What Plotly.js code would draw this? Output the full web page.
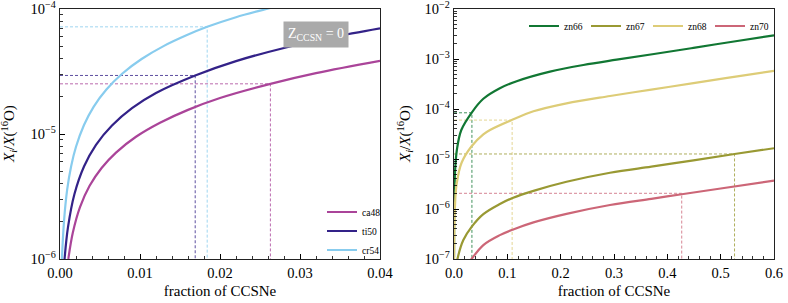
<!DOCTYPE html>
<html><head><meta charset="utf-8">
<script src="https://cdn.plot.ly/plotly-3.0.1.min.js"></script>
<style>html,body{margin:0;padding:0;background:#fff}#chart{width:788px;height:303px}</style>
</head><body><div id="chart"></div>
<script>
// ---------- left panel data (fraction of CCSNe vs X_i/X(16O)) ----------
const leftNames = ['ca48', 'ti50', 'cr54'];
const ca48_f = [0.00104, 0.0016, 0.0025, 0.0037, 0.0052, 0.007, 0.0095, 0.0125, 0.016, 0.02, 0.0263, 0.032, 0.04];
const ca48_v = [1.0e-6, 1.62e-6, 2.6e-6, 3.85e-6, 5.35e-6, 7.1e-6, 9.5e-6, 1.23e-5, 1.56e-5, 1.94e-5, 2.52e-5, 3.07e-5, 3.85e-5];
const ti50_f = [0.00057, 0.001, 0.0018, 0.003, 0.0045, 0.0065, 0.009, 0.012, 0.0169, 0.022, 0.028, 0.034, 0.04];
const ti50_v = [1.0e-6, 1.8e-6, 3.3e-6, 5.5e-6, 8.2e-6, 1.17e-5, 1.61e-5, 2.13e-5, 2.94e-5, 3.83e-5, 4.88e-5, 5.94e-5, 7.0e-5];
const cr54_f = [0.00024, 0.0005, 0.0009, 0.0014, 0.002, 0.003, 0.0042, 0.0058, 0.0078, 0.0102, 0.013, 0.0158, 0.0184, 0.022, 0.0258, 0.028];
const cr54_v = [1.0e-6, 2.0e-6, 3.6e-6, 5.55e-6, 7.9e-6, 1.18e-5, 1.65e-5, 2.27e-5, 3.05e-5, 3.98e-5, 5.07e-5, 6.16e-5, 7.2e-5, 8.6e-5, 1.0e-4, 1.09e-4];
// marked points (dashed guide lines): ca48, ti50, cr54
const leftMark_f = [0.0263, 0.0169, 0.0184];
const leftMark_v = [2.52e-5, 2.94e-5, 7.2e-5];
const leftTickVals = [1e-6, 1e-5, 1e-4];
const leftTickText = ['10<sup>−6</sup>', '10<sup>−5</sup>', '10<sup>−4</sup>'];

// ---------- right panel data ----------
const rightNames = ['zn66', 'zn67', 'zn68', 'zn70'];
const zn66_f = [0.00004, 0.0002, 0.001, 0.0022, 0.0055, 0.0137, 0.0336, 0.055, 0.086, 0.1175, 0.18, 0.2425, 0.305, 0.375, 0.449, 0.525, 0.6];
const zn66_v = [1.1e-7, 5.6e-7, 2.8e-6, 6.2e-6, 1.55e-5, 3.8e-5, 8.6e-5, 1.6e-4, 2.6e-4, 3.6e-4, 5.6e-4, 7.6e-4, 9.7e-4, 1.26e-3, 1.67e-3, 2.24e-3, 2.98e-3];
const zn67_f = [0.004, 0.0065, 0.0175, 0.033, 0.055, 0.086, 0.111, 0.149, 0.211, 0.2925, 0.37, 0.449, 0.526, 0.6];
const zn67_v = [6.5e-8, 1.0e-7, 2.4e-7, 4.4e-7, 7.9e-7, 1.26e-6, 1.68e-6, 2.3e-6, 3.5e-6, 5.3e-6, 7.05e-6, 9.4e-6, 1.26e-5, 1.64e-5];
const zn68_f = [0.00015, 0.0005, 0.0019, 0.005, 0.0144, 0.033, 0.055, 0.0675, 0.108, 0.149, 0.211, 0.2925, 0.37, 0.449, 0.525, 0.6];
const zn68_v = [1.0e-7, 3.2e-7, 1.2e-6, 3.2e-6, 8.5e-6, 1.8e-5, 3.1e-5, 3.8e-5, 6.0e-5, 9.0e-5, 1.3e-4, 1.82e-4, 2.44e-4, 3.3e-4, 4.4e-4, 5.8e-4];
const zn70_f = [0.03, 0.033, 0.055, 0.086, 0.111, 0.149, 0.211, 0.2925, 0.37, 0.427, 0.5, 0.6];
const zn70_v = [9.0e-8, 1.0e-7, 1.9e-7, 3.0e-7, 3.9e-7, 5.4e-7, 8.0e-7, 1.2e-6, 1.6e-6, 1.97e-6, 2.57e-6, 3.7e-6];
// marked points: zn66, zn67, zn68, zn70
const rightMark_f = [0.0336, 0.526, 0.109, 0.427];
const rightMark_v = [8.4e-5, 1.26e-5, 6.0e-5, 2.06e-6];
const rightTickVals = [1e-7, 1e-6, 1e-5, 1e-4, 1e-3, 1e-2];
const rightTickText = ['10<sup>−7</sup>', '10<sup>−6</sup>', '10<sup>−5</sup>', '10<sup>−4</sup>', '10<sup>−3</sup>', '10<sup>−2</sup>'];

// ---------- styling ----------
const leftColors = ['#AA4499', '#332288', '#88CCEE'];
const rightColors = ['#117733', '#999933', '#DDCC77', '#CC6677'];
const FONT = '"Liberation Serif", "Times New Roman", serif';
const leftRange = [-6, -4];
const rightRange = [-7, -2];

const leftSeries = [[ca48_f, ca48_v], [ti50_f, ti50_v], [cr54_f, cr54_v]];
const rightSeries = [[zn66_f, zn66_v], [zn67_f, zn67_v], [zn68_f, zn68_v], [zn70_f, zn70_v]];

const traces = [];
leftMark_f.forEach((f, i) => {
  traces.push({x: [0, f, f], y: [leftMark_v[i], leftMark_v[i], Math.pow(10, leftRange[0])],
    xaxis: 'x', yaxis: 'y', mode: 'lines', showlegend: false, hoverinfo: 'skip',
    line: {color: leftColors[i], width: 0.8, dash: '3px,2px'}});
});
rightMark_f.forEach((f, i) => {
  traces.push({x: [0, f, f], y: [rightMark_v[i], rightMark_v[i], Math.pow(10, rightRange[0])],
    xaxis: 'x2', yaxis: 'y2', mode: 'lines', showlegend: false, hoverinfo: 'skip',
    line: {color: rightColors[i], width: 0.8, dash: '3px,2px'}});
});
leftSeries.forEach((s, i) => {
  traces.push({x: s[0], y: s[1], name: leftNames[i], xaxis: 'x', yaxis: 'y', mode: 'lines',
    legend: 'legend', line: {color: leftColors[i], width: 2.2, shape: 'spline', smoothing: 1}});
});
rightSeries.forEach((s, i) => {
  traces.push({x: s[0], y: s[1], name: rightNames[i], xaxis: 'x2', yaxis: 'y2', mode: 'lines',
    legend: 'legend2', line: {color: rightColors[i], width: 2.2, shape: 'spline', smoothing: 1}});
});

function minorLog(lo, hi) {
  const v = [];
  for (let e = lo; e < hi; e++) for (let m = 2; m <= 9; m++) v.push(m * Math.pow(10, e));
  return v;
}

const ytitle = '<i>X</i><sub><i>i</i></sub>/<i>X</i>(<sup>16</sup>O)';
const tickFont = {family: FONT, size: 14.5, color: '#000'};
const titleFont = {family: FONT, size: 15, color: '#000'};
const xCommon = {ticks: 'inside', ticklen: 5, tickwidth: 1, tickcolor: '#000', showline: true, mirror: true,
  linecolor: '#222', linewidth: 1.3, showgrid: false, zeroline: false, tickfont: tickFont,
  ticklabeloverflow: 'allow', title: {text: 'fraction of CCSNe', font: titleFont, standoff: 5}};
const yCommon = {type: 'log', tickmode: 'array', ticks: 'inside', ticklen: 5, tickwidth: 1,
  tickcolor: '#000', showline: true, mirror: true, linecolor: '#222', linewidth: 1.3, showgrid: false, zeroline: false,
  tickfont: tickFont, ticklabeloverflow: 'allow'};

const layout = {
  width: 788, height: 303, margin: {l: 0, r: 0, t: 9, b: 44, autoexpand: false},
  paper_bgcolor: '#fff', plot_bgcolor: '#fff', font: {family: FONT, color: '#000'},
  xaxis: Object.assign({}, xCommon, {domain: [60 / 788, 380 / 788], range: [0, 0.04], tick0: 0, dtick: 0.01,
    tickformat: '.2f', minor: {dtick: 0.002, ticks: 'inside', ticklen: 3, tickwidth: 0.8, tickcolor: '#000'}, anchor: 'y'}),
  yaxis: Object.assign({}, yCommon, {range: leftRange, anchor: 'x', tickvals: leftTickVals, ticktext: leftTickText,
    minor: {tickvals: minorLog(-6, -4), ticks: 'inside', ticklen: 3, tickwidth: 0.8, tickcolor: '#000'}}),
  xaxis2: Object.assign({}, xCommon, {domain: [454 / 788, 774 / 788], range: [0, 0.6], tick0: 0, dtick: 0.1,
    tickformat: '.1f', minor: {dtick: 0.02, ticks: 'inside', ticklen: 3, tickwidth: 0.8, tickcolor: '#000'}, anchor: 'y2'}),
  yaxis2: Object.assign({}, yCommon, {range: rightRange, anchor: 'x2', tickvals: rightTickVals, ticktext: rightTickText,
    minor: {tickvals: minorLog(-7, -2), ticks: 'inside', ticklen: 3, tickwidth: 0.8, tickcolor: '#000'}}),
  legend: {x: 322 / 788, xanchor: 'left', y: -0.022, yanchor: 'bottom', bgcolor: 'rgba(0,0,0,0)',
    font: {family: FONT, size: 9.5, color: '#000'}, itemwidth: 30, tracegroupgap: 0},
  legend2: {orientation: 'h', x: 524 / 788, xanchor: 'left', y: 0.99, yanchor: 'top',
    bgcolor: 'rgba(0,0,0,0)', font: {family: FONT, size: 9.5, color: '#000'}, itemwidth: 30,
    entrywidth: 17, entrywidthmode: 'pixels'},
  annotations: [
    {xref: 'paper', yref: 'paper', x: 315.5 / 788, y: 1 - (34.5 - 9) / 250, xanchor: 'center', yanchor: 'middle',
      text: 'Z<sub>CCSN</sub> = 0', showarrow: false, bgcolor: '#aaaaaa', borderpad: 4,
      font: {family: FONT, size: 14, color: '#fff'}},
    {xref: 'paper', yref: 'paper', x: 9 / 788, y: 0.5, xanchor: 'center', yanchor: 'middle', textangle: -90,
      text: ytitle, showarrow: false, font: titleFont},
    {xref: 'paper', yref: 'paper', x: 405 / 788, y: 0.5, xanchor: 'center', yanchor: 'middle', textangle: -90,
      text: ytitle, showarrow: false, font: titleFont}
  ]
};

Plotly.newPlot('chart', traces, layout, {displayModeBar: false, staticPlot: true});
</script>
</body></html>
